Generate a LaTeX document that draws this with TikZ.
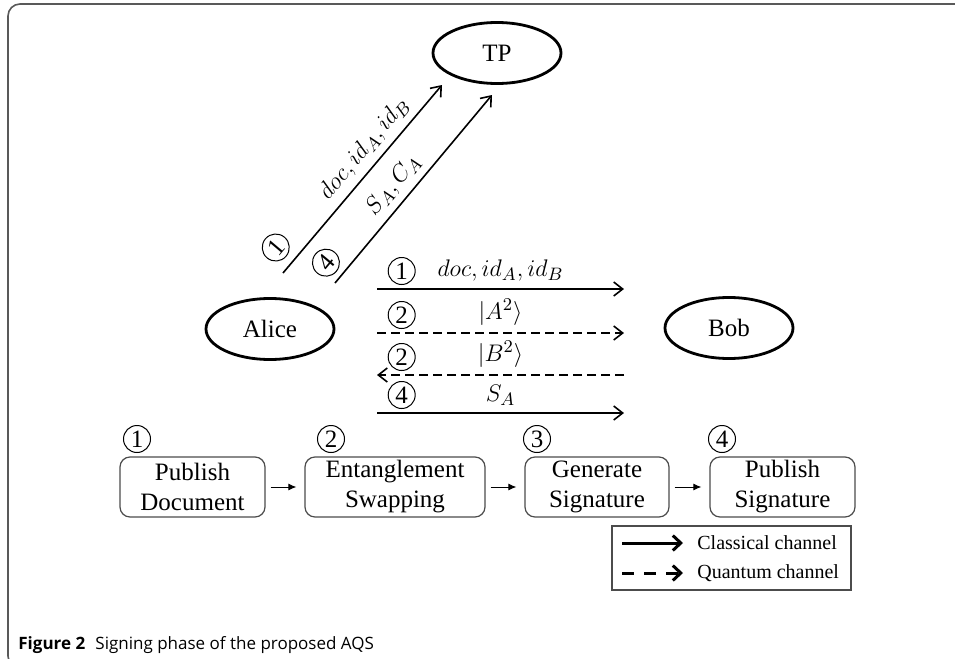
\documentclass[tikz,border=0pt]{standalone}
\usepackage{fontspec}
\setmainfont{Liberation Serif}
\newfontfamily\capfont{Open Sans}
\usetikzlibrary{arrows.meta, shapes.geometric, positioning, calc}

\tikzset{
  party/.style={ellipse, draw, line width=1.4pt, minimum width=64pt, minimum height=30.5pt, font=\fontsize{12.5}{15}\selectfont},
  cls/.style={-{Straight Barb[length=4.5pt,width=7pt]}, line width=0.8pt},
  qnt/.style={cls, dash pattern=on 4.5pt off 2.5pt},
  stepnum/.style={circle, draw, solid, line width=0.5pt, inner sep=0.5pt, minimum size=13.5pt, font=\fontsize{12.5}{15}\selectfont},
  msg/.style={font=\fontsize{12.5}{15}\selectfont},
  phasebox/.style={draw=black!70, rounded corners=5pt, line width=0.6pt, align=center, minimum height=30pt, inner sep=1pt, font=\fontsize{12.5}{15}\selectfont},
  flow/.style={-{Latex[length=4pt,width=3.5pt]}, line width=0.5pt, shorten <=2.5pt, shorten >=4pt},
  legarrow/.style={-{Straight Barb[length=4pt,width=7.5pt]}, line width=1.5pt},
}

\begin{document}
\begin{tikzpicture}[x=0.5pt, y=-0.5pt]
  \useasboundingbox (0,0) rectangle (955,659);
  % outer frame
  \begin{scope}
    \clip (0,0) rectangle (955,659);
    \draw[black!65, line width=0.8pt, rounded corners=6pt] (8,4) rectangle (990,668);
  \end{scope}

  % parties
  \node[party] (tp) at (497,53) {TP};
  \node[party] (alice) at (270,329) {Alice};
  \node[party] (bob) at (729,328) {Bob};

  % Alice -> TP
  \coordinate (d1s) at (283,273);
  \coordinate (d1e) at (442,85);
  \coordinate (d2s) at (335,283);
  \coordinate (d2e) at (492,95);
  \draw[cls] (d1s) -- (d1e)
    node[pos=0.06, sloped, above=4pt, stepnum] (c1) {1}
    node[pos=0.6, sloped, above, msg] (m1) {$doc,id_A,id_B$};
  \draw[cls] (d2s) -- (d2e)
    node[pos=0.04, sloped, above=3pt, stepnum] (c4) {4}
    node[pos=0.46, sloped, above, msg] (m4) {$S_A,C_A$};

  % Alice <-> Bob
  \coordinate (h1s) at (377,289);
  \coordinate (h1e) at (624,289);
  \coordinate (h2s) at (377,333);
  \coordinate (h2e) at (624,333);
  \coordinate (h3s) at (624,375);
  \coordinate (h3e) at (377,375);
  \coordinate (h4s) at (377,413);
  \coordinate (h4e) at (624,413);
  \draw[cls] (h1s) -- (h1e)
    node[pos=0.1, above=2pt, stepnum] {1}
    node[midway, above, msg] {$doc,id_A,id_B$};
  \draw[qnt] (h2s) -- (h2e)
    node[pos=0.1, above=2pt, stepnum] {2}
    node[midway, above, msg] {$|A^2\rangle$};
  \draw[qnt] (h3s) -- (h3e)
    node[pos=0.9, above=2pt, stepnum] {2}
    node[midway, above, msg] {$|B^2\rangle$};
  \draw[cls] (h4s) -- (h4e)
    node[pos=0.1, above=2pt, stepnum] {4}
    node[midway, above, msg] {$S_A$};

  % phases
  \node[phasebox, minimum width=72.5pt] (pubdoc) at (192.5,487) {Publish\\Document};
  \node[phasebox, minimum width=90pt] (swap) at (395,487) {Entanglement\\Swapping};
  \node[phasebox, minimum width=72pt] (gensig) at (597,487) {Generate\\Signature};
  \node[phasebox, minimum width=72.5pt] (pubsig) at (782.5,487) {Publish\\Signature};
  \node[stepnum] (s1) at (137,439) {1};
  \node[stepnum] (s2) at (331,439) {2};
  \node[stepnum] (s3) at (537,439) {3};
  \node[stepnum] (s4) at (722,439) {4};
  \draw[flow] (pubdoc) -- (swap);
  \draw[flow] (swap) -- (gensig);
  \draw[flow] (gensig) -- (pubsig);

  % legend
  \node[draw=black!70, line width=0.7pt, minimum width=119.5pt, minimum height=32pt, inner sep=0pt] (legend) at (731.5,558) {};
  \coordinate (lc1) at (622,543);
  \coordinate (lc2) at (683,543);
  \coordinate (lq1) at (622,573);
  \coordinate (lq2) at (683,573);
  \draw[legarrow] (lc1) -- (lc2);
  \draw[legarrow, dash pattern=on 6pt off 5pt] (lq1) -- (lq2);
  \node[anchor=west, font=\fontsize{10}{12}\selectfont, inner sep=0pt] (lctext) at (697,543) {Classical channel};
  \node[anchor=west, font=\fontsize{10}{12}\selectfont, inner sep=0pt] (lqtext) at (697,573) {Quantum channel};

  % caption
  \node[anchor=base west, font=\capfont\fontsize{8.5}{10}\selectfont, inner sep=0pt] (caption) at (18,649) {\textbf{Figure 2}\hspace{0.6em}Signing phase of the proposed AQS};
\end{tikzpicture}
\end{document}
